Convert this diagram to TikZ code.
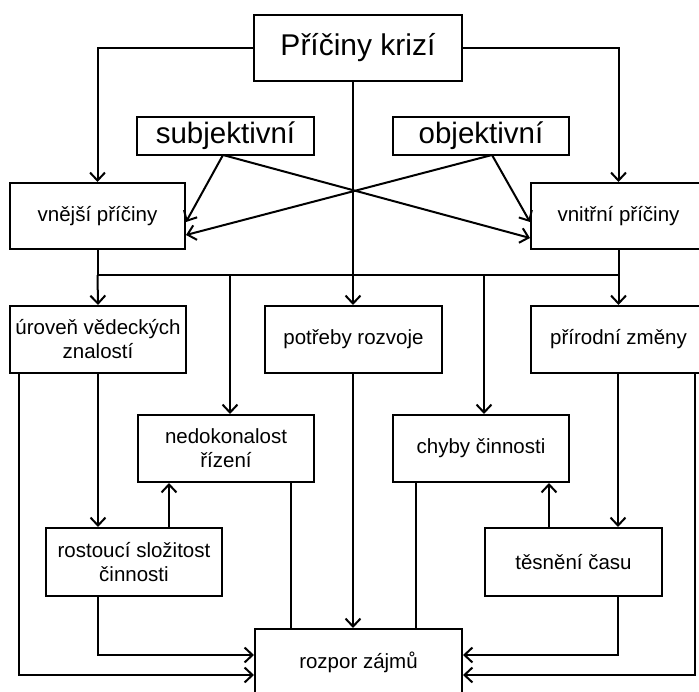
\documentclass[tikz,border=0pt]{standalone}
\usepackage{fontspec}
\setmainfont{Liberation Sans}
\usetikzlibrary{arrows.meta}
\begin{document}
\begin{tikzpicture}[x=1pt,y=-1pt,
  box/.style={draw, line width=2pt, inner sep=0pt, align=center, font=\fontsize{20.5}{24}\selectfont},
  bigbox/.style={box, font=\fontsize{30}{34}\selectfont},
  midbox/.style={box, font=\fontsize{29.5}{32}\selectfont},
  conn/.style={line width=2pt},
  arr/.style={conn, -{Straight Barb[length=8pt,width=15pt]}},
]
\useasboundingbox (0,0) rectangle (699,692);
% boxes
\node[bigbox, minimum width=208pt, minimum height=66pt] (title) at (358,48) {Příčiny krizí};
\node[midbox, minimum width=177pt, minimum height=38pt] (subj) at (225.5,136) {subjektivní};
\node[midbox, minimum width=176pt, minimum height=38pt] (obj) at (481,136) {objektivní};
\node[box, minimum width=175pt, minimum height=66pt] (vnejsi) at (97.5,216) {vnější příčiny};
\node[box, minimum width=175pt, minimum height=66pt] (vnitrni) at (618.5,216) {vnitřní příčiny};
\node[box, minimum width=176pt, minimum height=67pt] (uroven) at (98,339.5) {úroveň vědeckých\\znalostí};
\node[box, minimum width=177pt, minimum height=67pt] (potreby) at (353.5,339.5) {potřeby rozvoje};
\node[box, minimum width=175pt, minimum height=67pt] (prirodni) at (618.5,339.5) {přírodní změny};
\node[box, minimum width=176pt, minimum height=67pt] (nedok) at (226,448.5) {nedokonalost\\řízení};
\node[box, minimum width=176pt, minimum height=67pt] (chyby) at (481,448.5) {chyby činnosti};
\node[box, minimum width=176pt, minimum height=68pt] (rost) at (134,562) {rostoucí složitost\\činnosti};
\node[box, minimum width=177pt, minimum height=68pt] (tesn) at (573.5,562) {těsnění času};
\node[box, minimum width=207pt, minimum height=66pt] (rozpor) at (358.5,662) {rozpor zájmů};
% helper coordinates
\coordinate (bus) at (0,275);
\coordinate (lowA) at (0,655);
\coordinate (lowB) at (0,675);
\coordinate (cx) at (353,0);
% title to sides
\draw[arr] (title.west) -| (vnejsi.north);
\draw[arr] (title.east) -| (vnitrni.north);
\draw[arr] (title.south -| cx) -- (potreby.north -| cx);
% subjective / objective crossing
\coordinate (sb) at (223,155);
\coordinate (ob) at (492,155);
\draw[arr] (sb) -- (vnejsi.east |- 0,222);
\draw[arr] (sb) -- (vnitrni.west |- 0,238);
\draw[arr] (ob) -- (vnitrni.west |- 0,222);
\draw[arr] (ob) -- (vnejsi.east |- 0,235);
% bus
\draw[conn] (vnejsi.south) -- (vnejsi.south |- bus) -- (vnitrni.south |- bus) -- (vnitrni.south);
\draw[arr] (vnejsi.south |- bus) -- (uroven.north);
\draw[arr] (230,275) -- (nedok.north -| 230,0);
\draw[arr] (484,275) -- (chyby.north -| 484,0);
\draw[arr] (vnitrni.south |- bus) -- (prirodni.north);
% left side
\draw[arr] (uroven.south -| 19,0) -- (19,675) -- (rozpor.west |- lowB);
\draw[arr] (uroven.south) -- (rost.north -| uroven.south);
\draw[arr] (rost.north -| 169,0) -- (nedok.south -| 169,0);
\draw[arr] (rost.south -| 98,0) -- (98,655) -- (rozpor.west |- lowA);
\draw[conn] (nedok.south -| 291,0) -- (rozpor.north -| 291,0);
\draw[arr] (potreby.south -| cx) -- (rozpor.north -| cx);
\draw[conn] (chyby.south -| 416,0) -- (rozpor.north -| 416,0);
% right side
\draw[arr] (tesn.north -| 549,0) -- (chyby.south -| 549,0);
\draw[arr] (prirodni.south -| 618,0) -- (tesn.north -| 618,0);
\draw[arr] (tesn.south -| 618,0) -- (618,655) -- (rozpor.east |- lowA);
\draw[arr] (prirodni.south -| 695,0) -- (695,675) -- (rozpor.east |- lowB);
\end{tikzpicture}
\end{document}
